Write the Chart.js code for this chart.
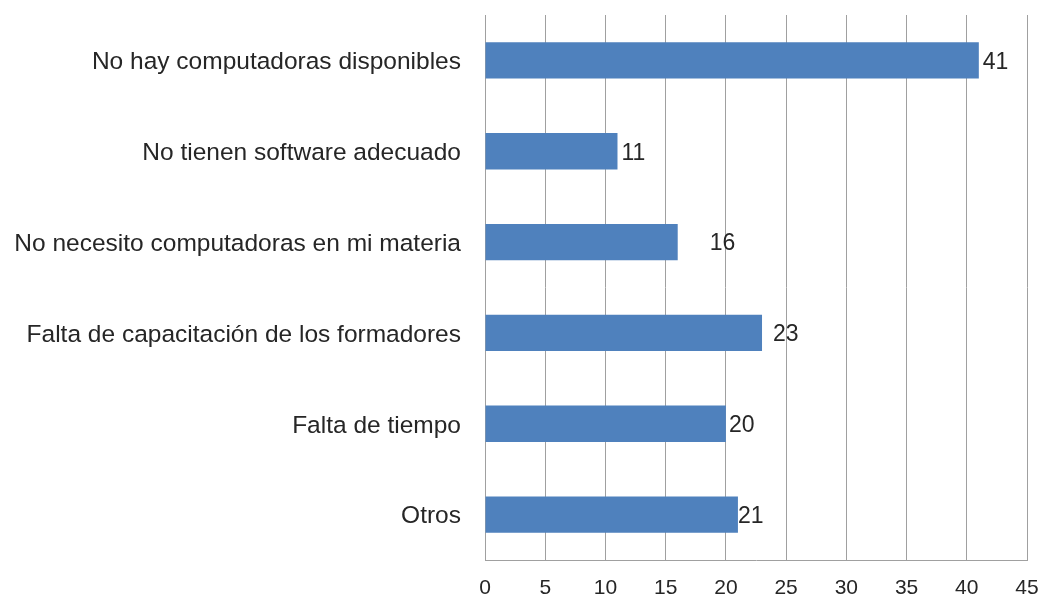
<!DOCTYPE html>
<html>
<head>
<meta charset="utf-8">
<script src="https://cdn.jsdelivr.net/npm/chart.js@4/dist/chart.umd.min.js"></script>
<style>
html,body{margin:0;padding:0;background:#fff;}
#wrap{width:1040px;height:596px;}
</style>
</head>
<body>
<div id="wrap"><canvas id="c" width="1040" height="596"></canvas></div>
<script>
const categories = [
  "No hay computadoras disponibles",
  "No tienen software adecuado",
  "No necesito computadoras en mi materia",
  "Falta de capacitación de los formadores",
  "Falta de tiempo",
  "Otros"
];
const values = [41, 11, 16, 23, 20, 21];
const xTicks = [0, 5, 10, 15, 20, 25, 30, 35, 40, 45];
// small horizontal nudges (px) of the value labels, as in the original
const labelNudge = [4, 4, 32, 11, 3, 0];

const FONT = "'Liberation Sans', Arial, sans-serif";

const valueLabels = {
  id: 'valueLabels',
  afterDatasetsDraw(chart) {
    const ctx = chart.ctx;
    const meta = chart.getDatasetMeta(0);
    ctx.save();
    ctx.font = "23px " + FONT;
    ctx.fillStyle = "#262626";
    ctx.textAlign = "left";
    ctx.textBaseline = "middle";
    meta.data.forEach((bar, i) => {
      ctx.fillText(String(values[i]), bar.x + labelNudge[i], bar.y + 2);
    });
    ctx.restore();
  }
};

function noPad(scale) {
  scale.paddingTop = 0; scale.paddingBottom = 0;
  scale.paddingLeft = 0; scale.paddingRight = 0;
}

new Chart(document.getElementById('c'), {
  type: 'bar',
  data: {
    labels: categories,
    datasets: [{
      data: values,
      backgroundColor: '#4f81bd',
      borderWidth: 0,
      barPercentage: 0.4,
      categoryPercentage: 1.0
    }]
  },
  plugins: [valueLabels],
  options: {
    indexAxis: 'y',
    responsive: false,
    animation: false,
    events: [],
    layout: { padding: { top: 15, right: 13, left: 0, bottom: 0 } },
    plugins: { legend: { display: false }, tooltip: { enabled: false } },
    scales: {
      x: {
        min: 0, max: 45,
        afterBuildTicks(scale) { scale.ticks = xTicks.map(v => ({ value: v })); },
        afterFit(scale) { scale.height = 36; noPad(scale); },
        grid: { color: '#a0a0a0', lineWidth: 1, drawTicks: false },
        border: { color: '#a0a0a0', width: 1 },
        ticks: { color: '#262626', font: { family: FONT, size: 21 }, padding: 16, maxRotation: 0 }
      },
      y: {
        afterFit(scale) { scale.width = 485; noPad(scale); },
        grid: { display: false, drawTicks: false },
        border: { color: '#a0a0a0', width: 1 },
        ticks: { color: '#262626', font: { family: FONT, size: 24.5 }, padding: 24, labelOffset: 2 }
      }
    }
  }
});
</script>
</body>
</html>
